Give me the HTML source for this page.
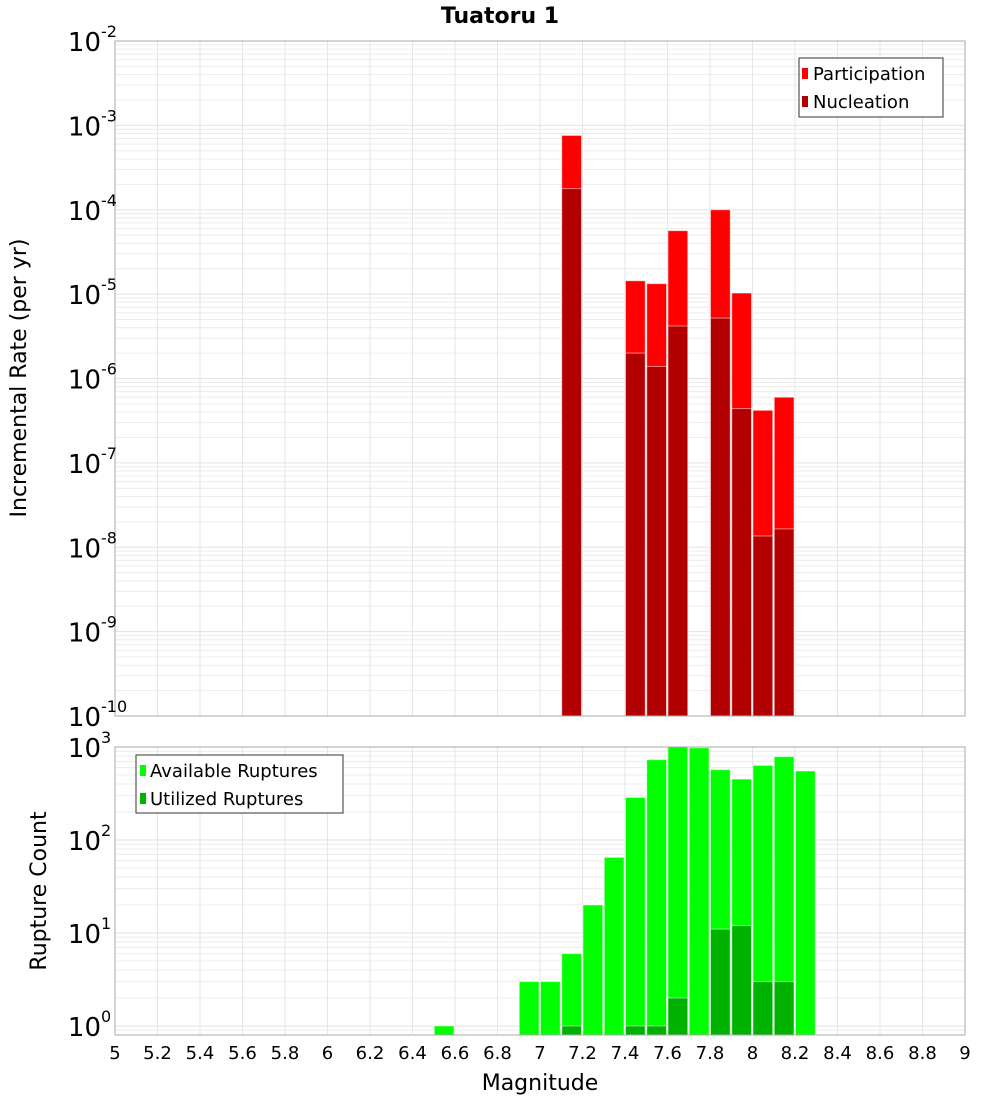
<!DOCTYPE html>
<html><head><meta charset="utf-8"><style>
body{margin:0;background:#fff;}
svg text{font-family:"DejaVu Sans","Liberation Sans",sans-serif;}
</style></head><body>
<svg id="c" width="1000" height="1100" xmlns="http://www.w3.org/2000/svg"></svg>
<script>
const bins=[5.0,5.1,5.2,5.3,5.4,5.5,5.6,5.7,5.8,5.9,6.0,6.1,6.2,6.3,6.4,6.5,6.6,6.7,6.8,6.9,7.0,7.1,7.2,7.3,7.4,7.5,7.6,7.7,7.8,7.9,8.0,8.1,8.2];
const rateMags=[7.1,7.4,7.5,7.6,7.8,7.9,8.0,8.1];
const participation=[7.6e-4,1.44e-5,1.33e-5,5.65e-5,1.0e-4,1.03e-5,4.2e-7,6.0e-7];
const nucleation=[1.78e-4,2.0e-6,1.39e-6,4.19e-6,5.2e-6,4.4e-7,1.36e-8,1.65e-8];
const countMags=[6.5,6.9,7.0,7.1,7.2,7.3,7.4,7.5,7.6,7.7,7.8,7.9,8.0,8.1,8.2];
const available=[1,3,3,6,20,65,287,730,1000,980,570,452,634,787,552];
const utilized=[0,0,0,1,0,0,1,1,2,0,11,12,3,3,0];
const xTicks=["5","5.2","5.4","5.6","5.8","6","6.2","6.4","6.6","6.8","7","7.2","7.4","7.6","7.8","8","8.2","8.4","8.6","8.8","9"];
const topExps=[-2,-3,-4,-5,-6,-7,-8,-9,-10];
const botExps=[3,2,1,0];

const NS="http://www.w3.org/2000/svg";
const svg=document.getElementById('c');
function el(t,a,p){const e=document.createElementNS(NS,t);for(const k in a)e.setAttribute(k,a[k]);(p||svg).appendChild(e);return e;}
const X0=115,X1=965;
const x=m=>X0+(m-5)/4*(X1-X0);
const T0=41,T1=716;
const yTop=v=>T0+(-2-Math.log10(v))/8*(T1-T0);
const B0=747,B1=1035;
const bMin=Math.log10(0.8),bMax=3;
const yBot=v=>B1-(Math.log10(v)-bMin)/(bMax-bMin)*(B1-B0);

function grid(yf,lo,hi,y0,y1,g){
  for(let e=lo;e<=hi;e++)for(let k=1;k<10;k++){const v=k*Math.pow(10,e);const y=yf(v);if(y<y0-0.5||y>y1+0.5)continue;
    const l=el('line',{x1:X0,x2:X1,y1:y,y2:y,stroke:k==1?'#e2e2e2':'#ececec','stroke-width':1},g);
    
    }
  for(let i=0;i<xTicks.length;i++){const xx=x(parseFloat(xTicks[i]));
    const l=el('line',{x1:xx,x2:xx,y1:y0,y2:y1,stroke:'#e6e6e6'},g);
    
    }
}
const gt=el('g',{});
grid(yTop,-10,-3,T0,T1,gt);
const gb=el('g',{});
grid(yBot,-1,2,B0,B1,gb);

const bw=(X1-X0)/40;
function bar(g,m,v,base,yf,col,name){
  if(v<=0)return;
  const y=Math.max(yf(v),yf===yTop?T0:B0);
  const r=el('rect',{x:x(m)+0.5,y:y,width:bw-1.5,height:base-y,fill:col,stroke:'#fff','stroke-opacity':0.5,'stroke-width':1},g);
  
  
}
rateMags.forEach((m,i)=>bar(gt,m,participation[i],T1,yTop,'#ff0000','participation-bar'));
rateMags.forEach((m,i)=>bar(gt,m,nucleation[i],T1,yTop,'#b20000','nucleation-bar'));
countMags.forEach((m,i)=>bar(gb,m,available[i],B1,yBot,'#00ff00','available-bar'));
countMags.forEach((m,i)=>bar(gb,m,utilized[i],B1,yBot,'#00b200','utilized-bar'));

el('rect',{x:X0,y:T0,width:X1-X0,height:T1-T0,fill:'none',stroke:'#aaa',});
el('rect',{x:X0,y:B0,width:X1-X0,height:B1-B0,fill:'none',stroke:'#aaa',});

function ylab(e,y,name){
  const t=el('text',{x:101,y:y+10,'text-anchor':'end','font-size':26,fill:'#000'});
  t.textContent='10';
  
  
  const s=el('text',{x:101,y:y-4,'font-size':16,fill:'#000'});
  s.textContent=String(e);
  
  
}
topExps.forEach(e=>ylab(e,yTop(Math.pow(10,e)),'top-y-tick-label'));
botExps.forEach(e=>ylab(e,yBot(Math.pow(10,e)),'bottom-y-tick-label'));
xTicks.forEach(s=>{const t=el('text',{x:x(parseFloat(s)),y:1059,'text-anchor':'middle','font-size':18,fill:'#000'});
  t.textContent=s;
  
  });
</script>
<svg width="1000" height="1100" style="position:absolute;left:0;top:0">
<text x="500" y="23" text-anchor="middle" font-size="22" font-weight="bold" font-family="DejaVu Sans, Liberation Sans, sans-serif">Tuatoru 1</text>
<text transform="translate(26,378) rotate(-90)" text-anchor="middle" font-size="22" font-family="DejaVu Sans, Liberation Sans, sans-serif">Incremental Rate (per yr)</text>
<text transform="translate(46,891) rotate(-90)" text-anchor="middle" font-size="22" font-family="DejaVu Sans, Liberation Sans, sans-serif">Rupture Count</text>
<text x="540" y="1090" text-anchor="middle" font-size="22" font-family="DejaVu Sans, Liberation Sans, sans-serif">Magnitude</text>
<g font-family="DejaVu Sans, Liberation Sans, sans-serif" font-size="18">
<rect x="799" y="58" width="144" height="59" fill="#fff" stroke="#333"/>
<rect x="802" y="68" width="6" height="11" fill="#ff0000"/>
<text x="813" y="80">Participation</text>
<rect x="802" y="96" width="6" height="11" fill="#b20000"/>
<text x="813" y="108">Nucleation</text>
</g>
<g font-family="DejaVu Sans, Liberation Sans, sans-serif" font-size="18">
<rect x="136" y="755" width="207" height="58" fill="#fff" stroke="#333"/>
<rect x="140" y="765" width="6" height="11" fill="#00ff00"/>
<text x="150" y="777">Available Ruptures</text>
<rect x="140" y="793" width="6" height="11" fill="#00b200"/>
<text x="150" y="805">Utilized Ruptures</text>
</g>
</svg>
</body></html>
